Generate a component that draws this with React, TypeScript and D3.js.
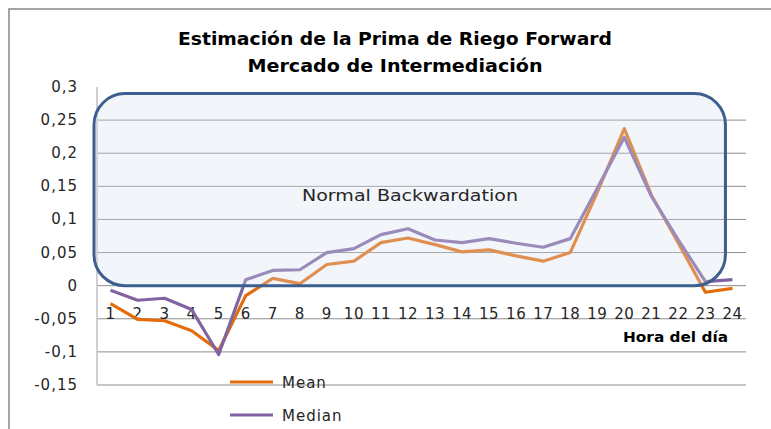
import * as d3 from "d3";
import React from "react";

const hours = d3.range(1, 25).map(String);
const meanValues = [
	-0.027, -0.051, -0.053, -0.068, -0.098, -0.015, 0.011, 0.003, 0.032, 0.037,
	0.065, 0.072, 0.062, 0.051, 0.054, 0.045, 0.037, 0.05, 0.141, 0.237, 0.137,
	0.064, -0.01, -0.004,
];
const medianValues = [
	-0.007, -0.022, -0.019, -0.036, -0.104, 0.009, 0.023, 0.024, 0.05, 0.056,
	0.077, 0.086, 0.069, 0.065, 0.071, 0.064, 0.058, 0.071, 0.147, 0.224, 0.135,
	0.069, 0.006, 0.009,
];
const yTicks = [0.3, 0.25, 0.2, 0.15, 0.1, 0.05, 0, -0.05, -0.1, -0.15];
const titleLines = [
	"Estimación de la Prima de Riego Forward",
	"Mercado de Intermediación",
];
const series = [
	{ name: "Mean", values: meanValues, color: "#E46C0A" },
	{ name: "Median", values: medianValues, color: "#8064A2" },
];

const W = 771;
const H = 429;
const margin = { top: 87, right: 25, bottom: 44, left: 97 };

const App = () => {
	const x = d3
		.scaleBand()
		.domain(hours)
		.range([margin.left, W - margin.right]);
	const y = d3
		.scaleLinear()
		.domain([-0.15, 0.3])
		.range([H - margin.bottom, margin.top]);

	const line = d3
		.line<number>()
		.x((_, i) => (x(hours[i]) ?? 0) + x.bandwidth() / 2)
		.y((d) => y(d));

	const fmt = (v: number) => String(+v.toFixed(2)).replace(".", ",");
	const font = "'DejaVu Sans', sans-serif";

	// rounded annotation box (Normal Backwardation zone)
	const boxX0 = margin.left - 3;
	const boxX1 = (x("23") ?? 0) + x.bandwidth() / 2 + 20;
	const boxY0 = y(0.29);
	const boxY1 = y(0);

	return (
		<svg
			width={W}
			height={H}
			style={{ position: "absolute", left: 0, top: 0, background: "#fff" }}
		>
			<rect
				x={9}
				y={9}
				width={W + 20}
				height={H + 20}
				fill="#fff"
				stroke="#868686"
				strokeWidth={1.5}
			/>
			{titleLines.map((t, i) => (
				<text
					key={t}
					x={395}
					y={45 + i * 27}
					textAnchor="middle"
					fontFamily={font}
					fontWeight="bold"
					fontSize={17}
					textLength={i === 0 ? 434 : 295}
					lengthAdjust="spacingAndGlyphs"
					fill="#000"
				>
					{t}
				</text>
			))}
			{yTicks
				.filter((t) => t !== 0.3)
				.map((t) => (
					<line
						key={t}
						x1={margin.left}
						x2={W - margin.right}
						y1={y(t)}
						y2={y(t)}
						stroke="#8E8E8E"
						strokeWidth={1}
					/>
				))}
			<line
				x1={margin.left}
				x2={margin.left}
				y1={y(0.3)}
				y2={y(-0.15)}
				stroke="#C0C0C0"
				strokeWidth={1.5}
			/>
			{yTicks.map((t) => (
				<text
					key={t}
					x={78}
					y={y(t) + 5}
					textAnchor="end"
					fontFamily={font}
					fontSize={15}
					letterSpacing={1}
					fill="#262626"
				>
					{fmt(t)}
				</text>
			))}
			{hours.map((h) => (
				<text
					key={h}
					x={(x(h) ?? 0) + x.bandwidth() / 2}
					y={319}
					textAnchor="middle"
					fontFamily={font}
					fontSize={15}
					letterSpacing={0.5}
					fill="#262626"
				>
					{h}
				</text>
			))}
			<text
				x={728}
				y={342}
				textAnchor="end"
				fontFamily={font}
				fontWeight="bold"
				fontSize={14}
				textLength={105}
				lengthAdjust="spacingAndGlyphs"
				fill="#000"
			>
				Hora del día
			</text>
			{series.map((s) => (
				<path
					key={s.name}
					d={line(s.values) ?? ""}
					fill="none"
					stroke={s.color}
					strokeWidth={3.2}
					strokeLinejoin="round"
				/>
			))}
			<rect
				x={boxX0}
				y={boxY0}
				width={boxX1 - boxX0}
				height={boxY1 - boxY0}
				rx={31}
				ry={31}
				fill="rgb(214,225,242)"
				fillOpacity={0.31}
				stroke="#3D5F8E"
				strokeWidth={3}
			/>
			<text
				x={410}
				y={201}
				textAnchor="middle"
				fontFamily={font}
				fontSize={15}
				textLength={216}
				lengthAdjust="spacingAndGlyphs"
				fill="#262626"
			>
				Normal Backwardation
			</text>
			{series.map((s, i) => (
				<g key={s.name} transform={`translate(230,${382 + i * 33})`}>
					<line x1={0} x2={43} y1={0} y2={0} stroke={s.color} strokeWidth={3} />
					<text
						x={52}
						y={5.5}
						fontFamily={font}
						fontSize={15}
						letterSpacing={1}
						fill="#262626"
					>
						{s.name}
					</text>
				</g>
			))}
		</svg>
	);
};

export default App;
